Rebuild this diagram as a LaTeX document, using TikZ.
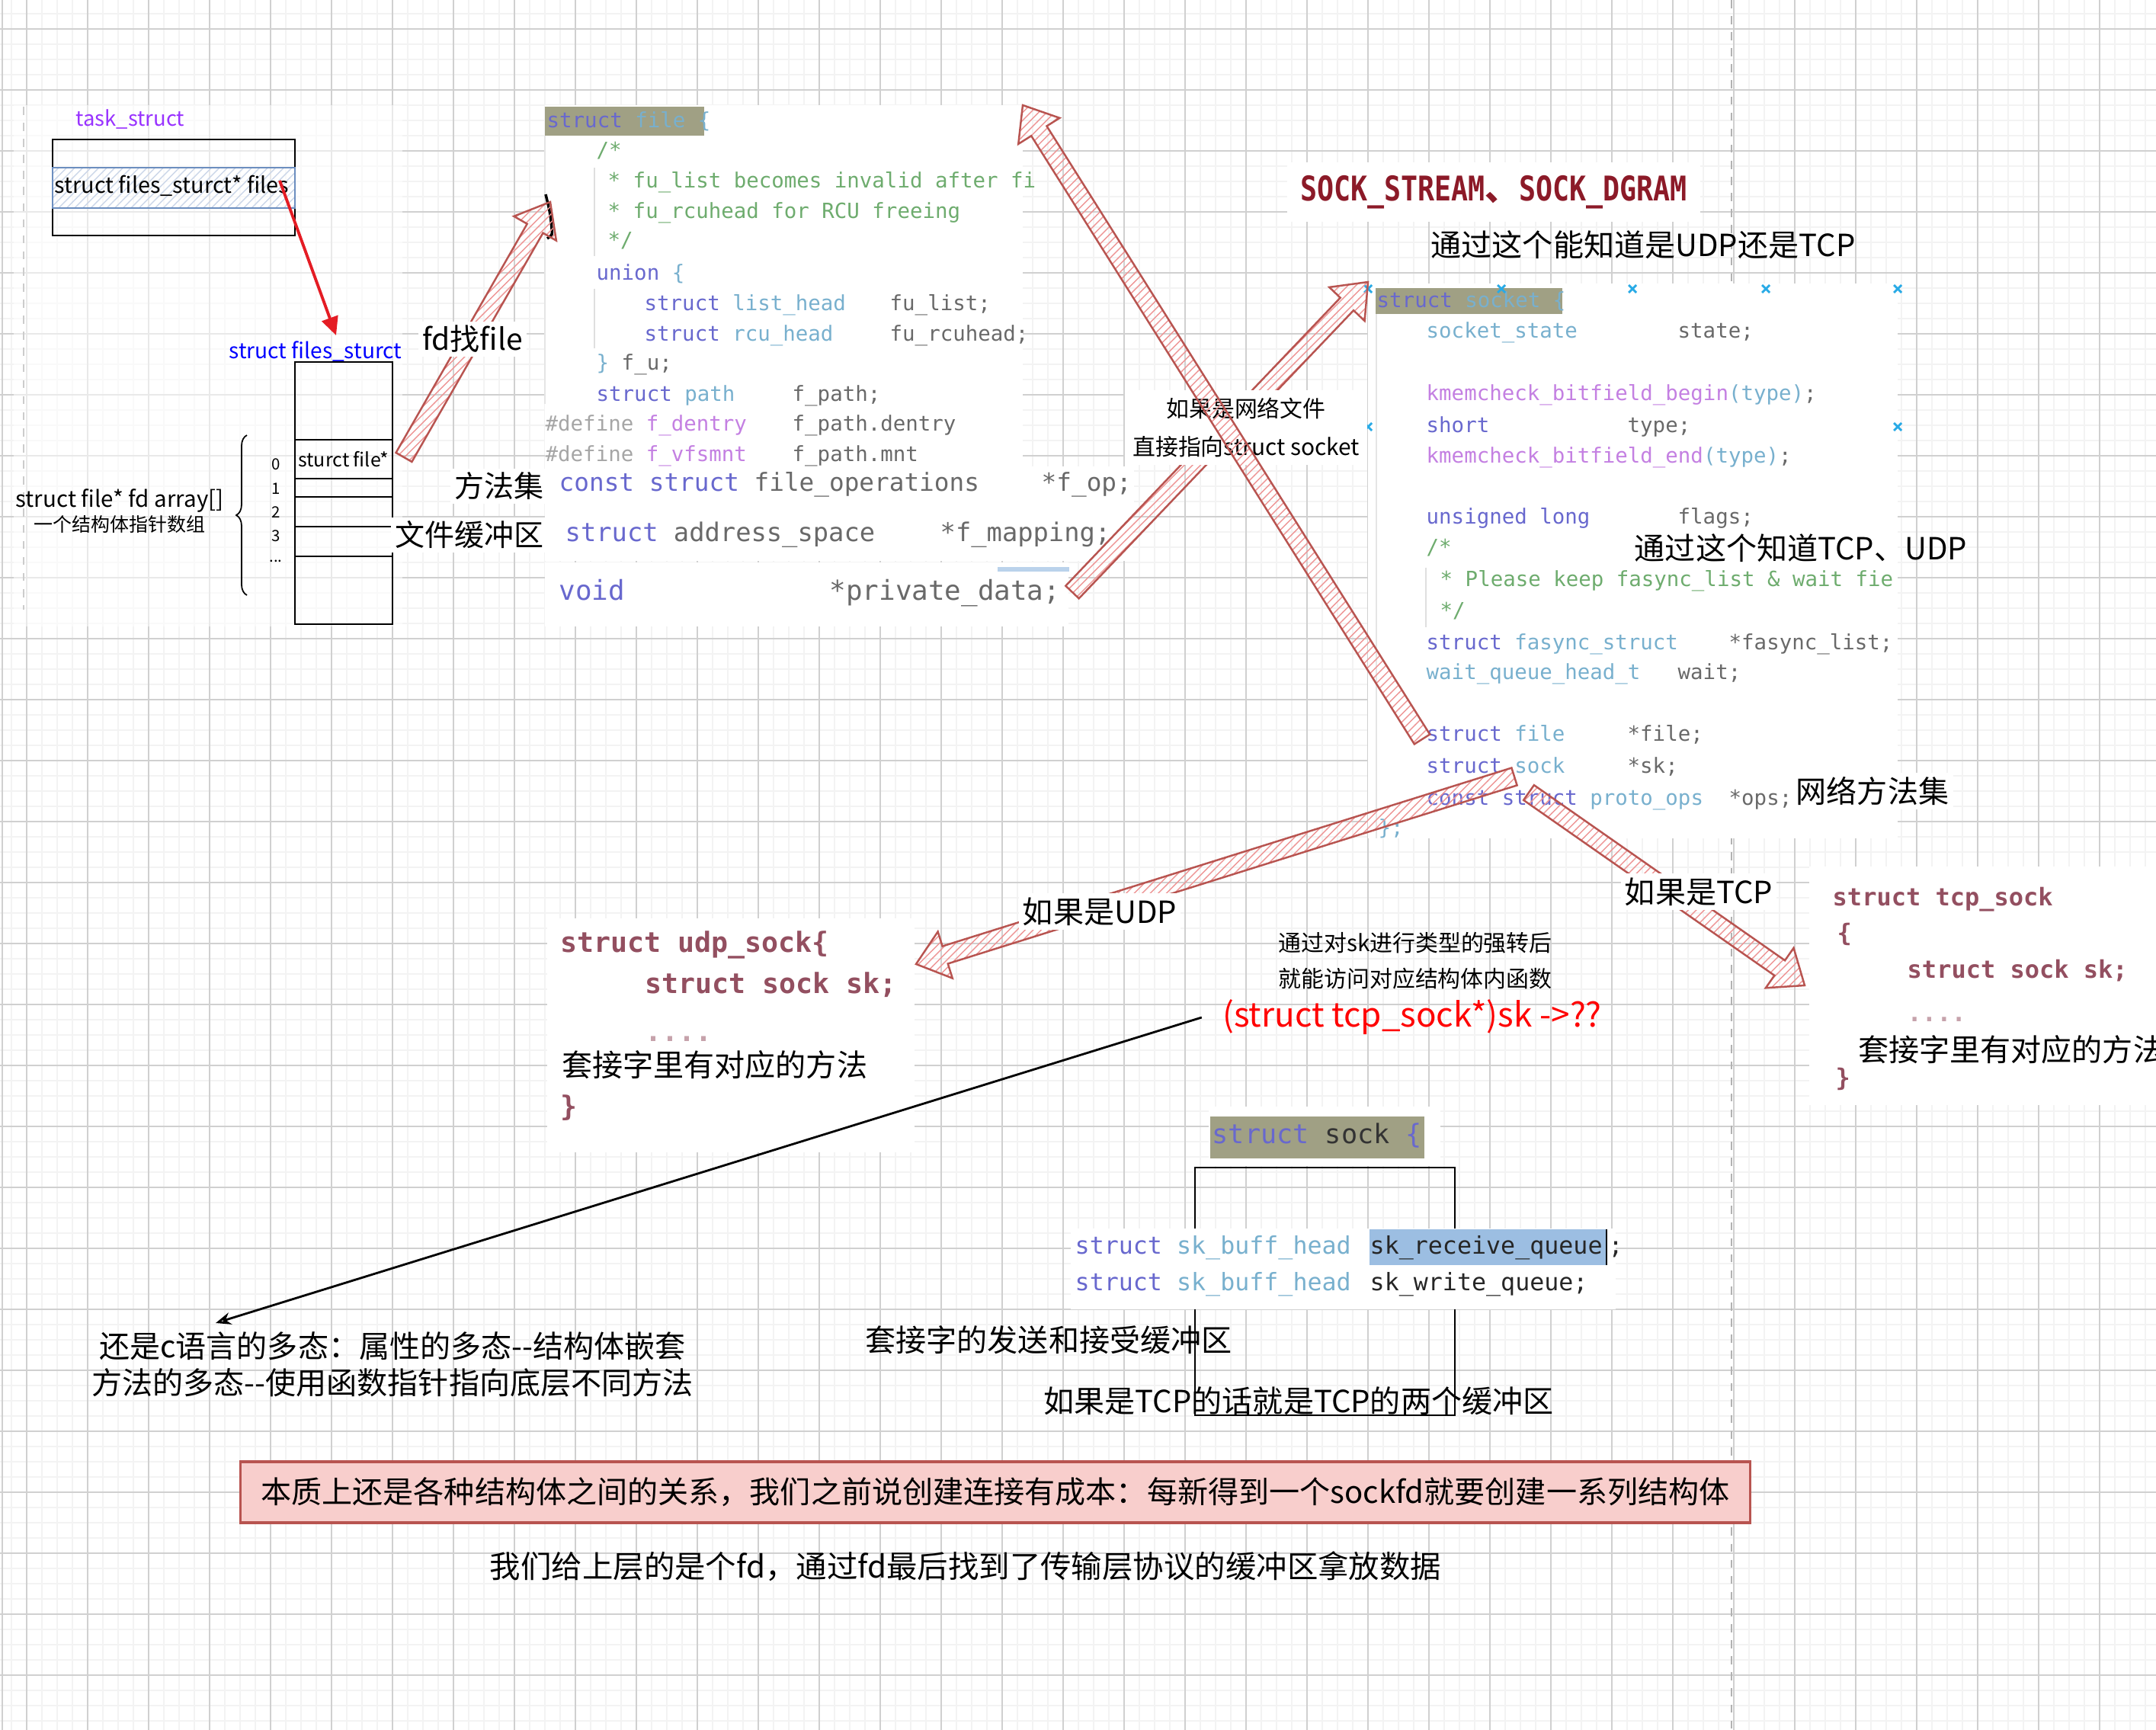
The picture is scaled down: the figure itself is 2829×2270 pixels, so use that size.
\documentclass[tikz,border=0pt]{standalone}
\usepackage{fontspec}
\setmainfont{Noto Sans CJK SC}
\setmonofont{DejaVu Sans Mono}
\newfontfamily\condmono[FakeStretch=0.82]{DejaVu Sans Mono}
\usepackage{tikz}
\usetikzlibrary{calc,patterns,arrows.meta,decorations.pathreplacing}
\usepackage{xcolor}

\definecolor{gridminor}{RGB}{243,243,243}
\definecolor{gridmajor}{RGB}{208,208,208}
\definecolor{arrowred}{RGB}{184,84,80}
\definecolor{hatchpink}{RGB}{238,150,150}
\definecolor{boxpink}{RGB}{248,206,204}
\definecolor{hdrolive}{RGB}{160,160,132}
\definecolor{kwblue}{RGB}{104,104,206}
\definecolor{tyteal}{RGB}{120,176,206}
\definecolor{cmgreen}{RGB}{110,172,110}
\definecolor{fdgray}{RGB}{105,105,105}
\definecolor{mcviolet}{RGB}{196,128,226}
\definecolor{maroon}{RGB}{128,48,68}
\definecolor{handblue}{RGB}{40,170,230}
\definecolor{rowblue}{RGB}{108,142,191}
\definecolor{selblue}{RGB}{156,190,226}
\definecolor{sockred}{RGB}{140,26,40}
\definecolor{taskviolet}{RGB}{153,51,255}
\definecolor{linkred}{RGB}{228,28,36}

\newcommand\kwd[1]{\textcolor{kwblue}{#1}}
\newcommand\typ[1]{\textcolor{tyteal}{#1}}
\newcommand\cmt[1]{\textcolor{cmgreen}{#1}}
\newcommand\mcr[1]{\textcolor{mcviolet}{#1}}

\begin{document}
\begin{tikzpicture}[
  x=0.01cm, y=-0.01cm,
  codetxt/.style={font=\ttfamily\fontsize{7.8}{9}\selectfont,anchor=west,inner sep=0pt,text height=0.75em,text depth=0.25em,text=fdgray},
  codebig/.style={codetxt,font=\ttfamily\fontsize{#1}{#1}\selectfont},
  bodycode/.style={codetxt,font=\ttfamily\bfseries\fontsize{#1}{#1}\selectfont,text=maroon!85},
  lbl/.style={font=\fontsize{11.4}{13}\selectfont,inner sep=1pt},
  lblw/.style={lbl,fill=white,inner sep=1.5pt},
  hand/.style={font=\fontsize{#1}{#1}\selectfont,inner sep=0pt},
  shot/.style={fill=white},
  hdr/.style={fill=hdrolive},
  sketch/.style={draw=black,line width=0.6pt},
  hatcharrow/.style={draw=arrowred,line width=0.7pt,pattern=north east lines,pattern color=hatchpink},
  ]
\useasboundingbox (0,0) rectangle (2829,2270);
\def\bigarrow#1#2{% tail, tip
  \coordinate (ba-h) at ($(#2)!0.4cm!(#1)$);
  \draw[hatcharrow] ($(#1)!0.12cm!90:(#2)$) -- ($(ba-h)!0.12cm!-90:(#1)$) -- ($(ba-h)!0.32cm!-90:(#1)$)
    -- (#2) -- ($(ba-h)!0.32cm!90:(#1)$) -- ($(ba-h)!0.12cm!90:(#1)$) -- ($(#1)!0.12cm!-90:(#2)$) -- cycle;
}

% grid background
\fill[white] (0,0) rectangle (2829,2270);
\foreach \x in {15,35,...,2829} \draw[gridminor,line width=0.6pt] (\x,0) -- (\x,2270);
\foreach \y in {18,38,...,2270} \draw[gridminor,line width=0.6pt] (0,\y) -- (2829,\y);
\foreach \x in {35,115,...,2829} \draw[gridmajor,line width=0.3pt] (\x,0) -- (\x,2270);
\foreach \y in {38,118,...,2270} \draw[gridmajor,line width=0.3pt] (0,\y) -- (2829,\y);
\draw[gridmajor,line width=0.8pt] (3,0) -- (3,2270);
\draw[gray!60,dashed,line width=0.4pt] (2272,0) -- (2272,2270);

% pasted screenshots
\fill[white,opacity=0.55] (18,138) rectangle (528,822);   % left sketch
\draw[gray!40,dashed,line width=0.4pt] (31,140) -- (31,800);
\fill[shot] (715,138) rectangle (1342,612);   % struct file
\fill[shot] (715,612) rectangle (1488,665);
\fill[shot] (715,665) rectangle (1486,736);
\fill[shot] (715,738) rectangle (1402,822);
\fill[shot] (1795,372) rectangle (2490,1100); % struct socket
\fill[shot] (718,1205) rectangle (1200,1512); % udp_sock
\fill[shot] (2374,1137) rectangle (2829,1450); % tcp_sock

% task_struct and files_struct
\node[hand=7.8,text=taskviolet] (tasklbl) at (171,157) {task\_struct};
\draw[sketch] (69,183) rectangle (387,309);
\path[pattern=north east lines,pattern color=rowblue!35] (69,220) rectangle (387,273);
\node[hand=8.2,anchor=west] (filesfld) at (71,244) {struct files\_sturct* files};
\draw[rowblue,line width=0.6pt] (69,220) rectangle (387,273);
\node[hand=8,text=blue] (fslbl) at (414,461) {struct files\_sturct};
\draw[sketch] (387,475) rectangle (515,819);
\foreach \y in {577,628,652,691,730} \draw[sketch] (387,\y) -- (515,\y);
\node[hand=7.1] (cell0) at (451,603) {sturct file*};
\foreach \i/\y in {0/609,1/641,2/672,3/703} \node[hand=5.8] (idx\i) at (362,\y) {\i};
\node[hand=5.8] (idxdots) at (362,736) {...};
\draw[decorate,decoration={brace,amplitude=0.14cm},line width=0.5pt] (324,781) -- (324,571);
\node[hand=8.4] (arrlbl) at (157,657) {struct file* fd array[]};
\node[hand=7.1] (arrcn) at (157,688) {一个结构体指针数组};
\coordinate (filesptr) at (367,237);
\coordinate (fstop) at (441,440);
\draw[linkred,line width=1.1pt,-{Triangle[length=0.24cm,width=0.22cm]}] (filesptr) -- (fstop);

% struct file
\fill[hdr] (715,140) rectangle (924,178);
\node[codetxt] (fh) at (717,159) {\kwd{struct} \typ{file \{}};
\node[codetxt] (f1) at (782,198) {\cmt{/*}};
\node[codetxt] (f2) at (797,238) {\cmt{* fu\_list becomes invalid after fi}};
\node[codetxt] (f3) at (797,278) {\cmt{* fu\_rcuhead for RCU freeing}};
\node[codetxt] (f4) at (797,316) {\cmt{*/}};
\node[codetxt] (f5) at (782,359) {\kwd{union} \typ{\{}};
\node[codetxt] (f6) at (845,399) {\kwd{struct} \typ{list\_head}};
\node[codetxt] (f6v) at (1167,399) {fu\_list;};
\node[codetxt] (f7) at (845,439) {\kwd{struct} \typ{rcu\_head}};
\node[codetxt] (f7v) at (1167,439) {fu\_rcuhead;};
\node[codetxt] (f8) at (782,477) {\typ{\}} f\_u;};
\node[codetxt] (f9) at (782,518) {\kwd{struct} \typ{path}};
\node[codetxt] (f9v) at (1039,518) {f\_path;};
\node[codetxt] (f10) at (715,557) {\textcolor{gray!70}{\#define} \mcr{f\_dentry}};
\node[codetxt] (f10v) at (1039,557) {f\_path.dentry};
\node[codetxt] (f11) at (715,597) {\textcolor{gray!70}{\#define} \mcr{f\_vfsmnt}};
\node[codetxt] (f11v) at (1039,597) {f\_path.mnt};
\draw[gray!25,line width=0.6pt] (780,220) -- (780,336) (780,379) -- (780,457);
\draw[gray!20,line width=0.6pt] (715,178) -- (715,530);
\node[codebig=9.3] (fop) at (733,636) {\kwd{const struct} file\_operations};
\node[codebig=9.3] (fopv) at (1366,636) {*f\_op;};
\node[codebig=9.6] (fmap) at (741,702) {\kwd{struct} address\_space};
\node[codebig=9.6] (fmapv) at (1233,702) {*f\_mapping;};
\fill[selblue!70] (1309,744) rectangle (1403,750);
\node[codebig=10.2] (fvoid) at (733,779) {\kwd{void}};
\node[codebig=10.2] (fpriv) at (1088,779) {*private\_data;};
\draw[line width=1pt] (716,255) .. controls (722,280) .. (724,300) .. controls (725,308) .. (718,313);

% struct socket
\fill[hdr] (1805,378) rectangle (2050,412);
\node[codetxt] (sh) at (1806,395) {\kwd{struct} \typ{socket \{}};
\node[codetxt] (s1) at (1871,435) {\typ{socket\_state}};
\node[codetxt] (s1v) at (2201,435) {state;};
\node[codetxt] (s2) at (1871,517) {\mcr{kmemcheck\_bitfield\_begin}\typ{(type)};};
\node[codetxt] (s3) at (1871,559) {\kwd{short}};
\node[codetxt] (s3v) at (2135,559) {type;};
\node[codetxt] (s4) at (1871,599) {\mcr{kmemcheck\_bitfield\_end}\typ{(type)};};
\node[codetxt] (s5) at (1871,679) {\kwd{unsigned long}};
\node[codetxt] (s5v) at (2201,679) {flags;};
\node[codetxt] (s6) at (1871,719) {\cmt{/*}};
\node[codetxt] (s7) at (1889,761) {\cmt{* Please keep fasync\_list \& wait fie}};
\node[codetxt] (s8) at (1889,802) {\cmt{*/}};
\node[codetxt] (s9) at (1871,844) {\kwd{struct} \typ{fasync\_struct}};
\node[codetxt] (s9v) at (2268,844) {*fasync\_list;};
\node[codetxt] (s10) at (1871,883) {\typ{wait\_queue\_head\_t}};
\node[codetxt] (s10v) at (2201,883) {wait;};
\node[codetxt] (s11) at (1871,964) {\kwd{struct} \typ{file}};
\node[codetxt] (s11v) at (2135,964) {*file;};
\node[codetxt] (s12) at (1871,1006) {\kwd{struct} \typ{sock}};
\node[codetxt] (s12v) at (2135,1006) {*sk;};
\node[codetxt] (s13) at (1871,1048) {\kwd{const struct} \typ{proto\_ops}};
\node[codetxt] (s13v) at (2268,1048) {*ops;};
\node[codetxt] (s14) at (1808,1087) {\typ{\};}};
\draw[gray!25,line width=0.6pt] (1871,745) -- (1871,823);
\draw[gray!20,line width=0.6pt] (1806,412) -- (1806,1100);
\foreach \x/\y in {1795/379,1970/379,2142/379,2317/379,2490/379,1795/560,2490/560}
  \draw[handblue,line width=0.8pt] (\x-5,\y-5) -- (\x+5,\y+5) (\x-5,\y+5) -- (\x+5,\y-5);

\node[font=\condmono\bfseries\fontsize{12.7}{14}\selectfont,text=sockred,fill=white,inner sep=5pt] (socktype) at (1960,252) {SOCK\_STREAM{\rmfamily 、}SOCK\_DGRAM};
\node[lbl] (hint1) at (2156,321) {通过这个能知道是UDP还是TCP};
\node[lbl] (hint2) at (2363,719) {通过这个知道TCP、UDP};
\node[lblw] (netops) at (2457,1038) {网络方法集};

% fd -> file
\coordinate (fdptr) at (530,600);
\coordinate (filetop) at (722,265);
\bigarrow{fdptr}{filetop}
\node[lblw,font=\fontsize{11.1}{13}\selectfont] (fdfind) at (620,445) {fd找file};
\node[lblw,font=\fontsize{11.1}{13}\selectfont] (ops) at (655,638) {方法集};
\node[lblw,font=\fontsize{11.1}{13}\selectfont] (fbuf) at (616,702) {文件缓冲区};

% file <-> socket
\coordinate (privtail) at (1407,777);
\coordinate (socktop) at (1795,370);
\bigarrow{privtail}{socktop}
\node[lblw,font=\fontsize{8.5}{14.2}\selectfont,align=center,inner sep=3pt] (netlbl) at (1635,561) {如果是网络文件\\直接指向struct socket};
\coordinate (sockfile) at (1866,970);
\coordinate (filecorner) at (1342,138);
\bigarrow{sockfile}{filecorner}

% udp_sock / tcp_sock
\node[bodycode=10.4] (udp0) at (735,1241) {struct udp\_sock\{};
\node[bodycode=10.4] (udp1) at (846,1295) {struct sock sk;};
\node[bodycode=10.4,text=maroon!45] (udp2) at (846,1358) {....};
\node[lbl,anchor=west] (udpm) at (733,1397) {套接字里有对应的方法};
\node[bodycode=10.4] (udp3) at (735,1456) {\}};
\node[bodycode=9.1] (tcp0) at (2404,1180) {struct tcp\_sock};
\node[bodycode=9.1] (tcp1) at (2410,1227) {\{};
\node[bodycode=9.1] (tcp2) at (2502,1275) {struct sock sk;};
\node[bodycode=9.1,text=maroon!45] (tcp3) at (2502,1332) {....};
\node[lbl,anchor=west] (tcpm) at (2434,1377) {套接字里有对应的方法};
\node[bodycode=9.1] (tcp4) at (2408,1417) {\}};

\coordinate (udptail) at (1987,1019);
\coordinate (udptip) at (1202,1265);
\bigarrow{udptail}{udptip}
\coordinate (tcptail) at (2006,1040);
\coordinate (tcptip) at (2368,1293);
\bigarrow{tcptail}{tcptip}
\node[lblw] (ifudp) at (1443,1196) {如果是UDP};
\node[lblw] (iftcp) at (2229,1170) {如果是TCP};

% struct sock
\draw[sketch] (1568,1532) rectangle (1909,1857);
\fill[shot] (1586,1452) rectangle (1890,1530);
\fill[hdr] (1588,1465) rectangle (1869,1520);
\node[codebig=10,text=black!80] (skh) at (1590,1492) {\kwd{struct} sock \kwd{\{}};
\fill[shot] (1405,1612) rectangle (2120,1718);
\fill[selblue] (1797,1613) rectangle (2108,1660);
\node[codebig=9] (sk1) at (1410,1637) {\kwd{struct} \typ{sk\_buff\_head}};
\node[codebig=9,text=black!85] (sk1v) at (1797,1637) {sk\_receive\_queue};
\draw[black,line width=0.7pt] (2108,1613) -- (2108,1660);
\node[codebig=9,text=black!85] (sk1s) at (2110,1637) {;};
\node[codebig=9] (sk2) at (1410,1685) {\kwd{struct} \typ{sk\_buff\_head}};
\node[codebig=9,text=black!85] (sk2v) at (1797,1685) {sk\_write\_queue;};
\node[lbl] (skbuf) at (1376,1758) {套接字的发送和接受缓冲区};
\node[lbl] (tcpbuf) at (1704,1838) {如果是TCP的话就是TCP的两个缓冲区};

% cast note and polymorphism
\node[font=\fontsize{8.5}{13.4}\selectfont,align=center] (castlbl) at (1857,1261) {通过对sk进行类型的强转后\\就能访问对应结构体内函数};
\node[font=\fontsize{12.5}{14}\selectfont,text=red] (cast) at (1853,1335) {(struct tcp\_sock*)sk ->??};
\node[font=\fontsize{11.4}{13.6}\selectfont,align=center] (poly) at (515,1790) {还是c语言的多态：属性的多态-{}-结构体嵌套\\方法的多态-{}-使用函数指针指向底层不同方法};
\coordinate (polytip) at (283,1736);
\draw[line width=0.8pt,-{Stealth[open,length=0.2cm,width=0.16cm]}] ([xshift=-0.15cm]cast.west) -- (polytip);

% summary
\node[draw=arrowred,fill=boxpink,line width=0.9pt,inner sep=0pt,minimum width=19.8cm,minimum height=0.8cm,font=\fontsize{11.4}{13}\selectfont] (essence) at (1306,1958) {本质上还是各种结构体之间的关系，我们之前说创建连接有成本：每新得到一个sockfd就要创建一系列结构体};
\node[font=\fontsize{11.5}{13}\selectfont] (summary) at (1267,2055) {我们给上层的是个fd，通过fd最后找到了传输层协议的缓冲区拿放数据};
\end{tikzpicture}
\end{document}
